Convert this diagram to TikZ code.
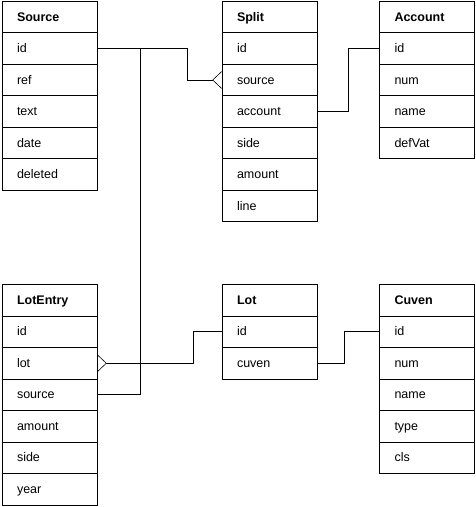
\documentclass[tikz,border=0pt]{standalone}
\usepackage{fontspec}
\setmainfont{Liberation Sans}
\usetikzlibrary{arrows.meta}

\begin{document}
\begin{tikzpicture}[x=1pt, y=1pt, node distance=31.5pt, line width=1pt,
  every node/.style={draw, rectangle, minimum height=31.5pt, text width=65pt, inner xsep=15pt, inner ysep=0pt, outer sep=0pt, text height=9.5pt, text depth=1.5pt, align=left, font=\fontsize{12.5}{15}\selectfont},
  hdr/.style={font=\fontsize{12.5}{15}\selectfont\bfseries},
  crow/.style={-{Straight Barb[reversed, length=9pt, width=17pt, line width=0.6pt]}}]
  \useasboundingbox (0,0) rectangle (476,-507);

  % Source
  \node[hdr] (src) at (49.5,-17) {Source};
  \node (src-id) [below of=src] {id};
  \node (src-ref) [below of=src-id] {ref};
  \node (src-text) [below of=src-ref] {text};
  \node (src-date) [below of=src-text] {date};
  \node (src-deleted) [below of=src-date] {deleted};

  % Split
  \node[hdr] (spl) at (269.5,-17) {Split};
  \node (spl-id) [below of=spl] {id};
  \node (spl-source) [below of=spl-id] {source};
  \node (spl-account) [below of=spl-source] {account};
  \node (spl-side) [below of=spl-account] {side};
  \node (spl-amount) [below of=spl-side] {amount};
  \node (spl-line) [below of=spl-amount] {line};

  % Account
  \node[hdr] (acc) at (427,-17) {Account};
  \node (acc-id) [below of=acc] {id};
  \node (acc-num) [below of=acc-id] {num};
  \node (acc-name) [below of=acc-num] {name};
  \node (acc-defvat) [below of=acc-name] {defVat};

  % LotEntry
  \node[hdr] (le) at (49.5,-300.25) {LotEntry};
  \node (le-id) [below of=le] {id};
  \node (le-lot) [below of=le-id] {lot};
  \node (le-source) [below of=le-lot] {source};
  \node (le-amount) [below of=le-source] {amount};
  \node (le-side) [below of=le-amount] {side};
  \node (le-year) [below of=le-side] {year};

  % Lot
  \node[hdr] (lot) at (269.5,-300.25) {Lot};
  \node (lot-id) [below of=lot] {id};
  \node (lot-cuven) [below of=lot-id] {cuven};

  % Cuven
  \node[hdr] (cuv) at (427,-300.25) {Cuven};
  \node (cuv-id) [below of=cuv] {id};
  \node (cuv-num) [below of=cuv-id] {num};
  \node (cuv-name) [below of=cuv-num] {name};
  \node (cuv-type) [below of=cuv-name] {type};
  \node (cuv-cls) [below of=cuv-type] {cls};

  % Links
  \draw[crow] (src-id.east) -- ++(90.5,0) |- (spl-source.west);
  \draw (le-source.east) -- ++(43.5,0) |- (src-id.east);
  \draw[crow] (lot-id.west) -- ++(-29,0) |- (le-lot.east);
  \draw (spl-account.east) -- ++(31.5,0) |- (acc-id.west);
  \draw (lot-cuven.east) -- ++(27.5,0) |- (cuv-id.west);
\end{tikzpicture}
\end{document}
